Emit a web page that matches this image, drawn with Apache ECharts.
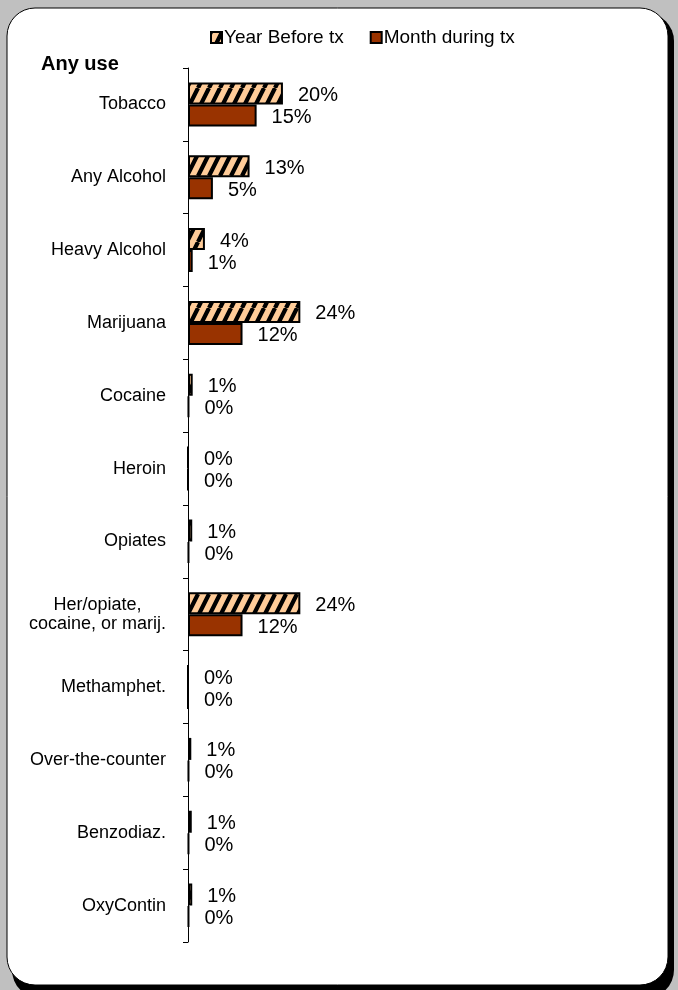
<!DOCTYPE html>
<html>
<head>
<meta charset="utf-8">
<script src="https://cdn.jsdelivr.net/npm/echarts@6/dist/echarts.min.js"></script>
<style>
html,body{margin:0;padding:0;background:#c0c0c0;}
#chart{width:678px;height:990px;}
</style>
</head>
<body>
<div id="chart"></div>
<script>
const categories = ['Tobacco','Any Alcohol','Heavy Alcohol','Marijuana','Cocaine','Heroin','Opiates','Her/opiate,\ncocaine, or marij.','Methamphet.','Over-the-counter','Benzodiaz.','OxyContin'];
const seriesNames = ['Year Before tx','Month during tx'];
const yearBefore = [20.2, 13.1, 3.6, 23.9, 1.0, 0, 0.9, 23.9, 0, 0.7, 0.8, 0.9];
const monthDuring = [14.6, 5.3, 1.0, 11.6, 0.2, 0, 0.2, 11.6, 0, 0.2, 0.2, 0.2];
const titleText = 'Any use';

const FONT = 'Liberation Sans, Arial, sans-serif';

function hatch(){
  const c = document.createElement('canvas');
  c.width = 11; c.height = 22;
  const g = c.getContext('2d');
  g.fillStyle = '#FFCC99';
  g.fillRect(0,0,11,22);
  g.strokeStyle = '#000';
  g.lineWidth = 4.2;
  g.beginPath();
  [-11,0,11].forEach(dx => { g.moveTo(dx,22); g.lineTo(dx+11,0); });
  g.stroke();
  return c;
}

const chart = echarts.init(document.getElementById('chart'), null, {renderer:'canvas'});

const labelCfg = {
  show:true, position:'right', distance:15, offset:[0,2],
  fontSize:20, color:'#000', fontFamily:FONT,
  formatter: p => Math.round(p.value) + '%'
};

chart.setOption({
  backgroundColor:'#c0c0c0',
  animation:false,
  graphic:[
    {type:'rect', z:-20, silent:true, shape:{x:12,y:13,width:662,height:985,r:28}, style:{fill:'#000'}},
    {type:'rect', z:-19, silent:true, shape:{x:7,y:8,width:661,height:977,r:28}, style:{fill:'#fff', stroke:'#000', lineWidth:1}}
  ],
  title:{
    text:titleText, left:41, top:54, padding:0,
    textStyle:{fontSize:20, fontWeight:'bold', color:'#000', fontFamily:FONT}
  },
  legend:{
    left:210, top:28, padding:0, itemGap:26, itemWidth:11, itemHeight:11, icon:'rect',
    textStyle:{fontSize:19, color:'#000', fontFamily:FONT, padding:[0,0,0,-3]},
    data:seriesNames
  },
  grid:{left:188, top:68, width:470, height:874, containLabel:false, outerBoundsMode:'none'},
  xAxis:{type:'value', min:0, max:100, show:false},
  yAxis:{
    type:'category', data:categories, inverse:true,
    axisLine:{show:true, lineStyle:{color:'#000', width:1}},
    axisTick:{show:true, length:5, lineStyle:{color:'#000', width:1}},
    splitLine:{show:false},
    axisLabel:{
      margin:22, fontSize:18, color:'#000', fontFamily:FONT,
      formatter: v => v.indexOf('\n') >= 0 ? v.split('\n').map(s => '{c|' + s + '}').join('\n') : v,
      rich:{c:{align:'center', fontSize:18, lineHeight:19, color:'#000', fontFamily:FONT}}
    }
  },
  series:[
    {
      name:seriesNames[0], type:'bar', data:yearBefore, barWidth:22, barGap:'0%',
      itemStyle:{color:{image:hatch(), repeat:'repeat'}, borderColor:'#000', borderWidth:2},
      label:labelCfg
    },
    {
      name:seriesNames[1], type:'bar', data:monthDuring, barWidth:22, barGap:'0%',
      itemStyle:{color:'#993300', borderColor:'#000', borderWidth:2},
      label:labelCfg
    }
  ]
});
</script>
</body>
</html>
